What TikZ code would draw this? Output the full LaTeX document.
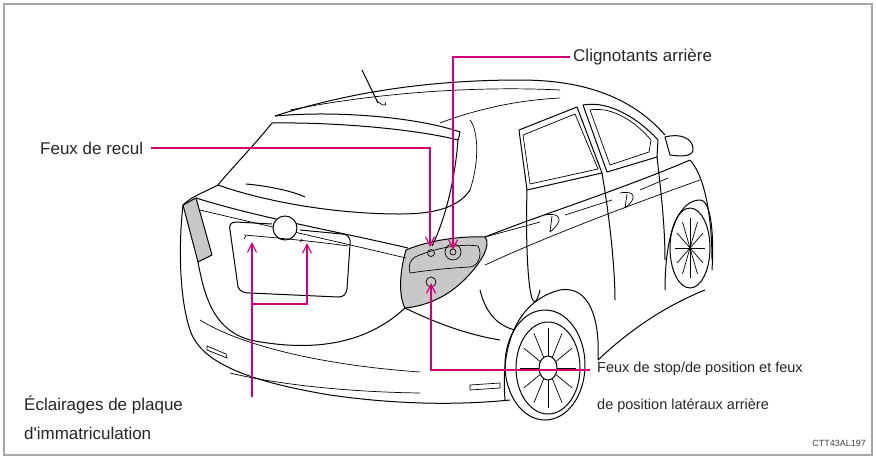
\documentclass[tikz,border=0pt]{standalone}
\usepackage{fontspec}
\setmainfont{Liberation Sans}
\newfontfamily\plainf{Liberation Sans}
\usetikzlibrary{arrows.meta}
\definecolor{mag}{HTML}{D1007A}
\definecolor{lgray}{HTML}{C8C8C8}
\begin{document}
\begin{tikzpicture}[x=1pt,y=-1pt,
  car/.style={line width=1pt,black,line join=round},
  thin/.style={line width=0.7pt,black},
  call/.style={line width=1.4pt,mag},
  tip/.style={call,-{Straight Barb[length=9pt,width=9pt,line width=1.2pt]}},
  lab/.style={font=\fontsize{17}{21}\selectfont,text=black!85,inner sep=0pt}]
\useasboundingbox (0,0) rectangle (876,459);
\draw[line width=2pt,gray!70] (4,4) rectangle (872,455);
% ---------- car ----------
\fill[lgray] (406,250) .. controls (430,240) and (460,236) .. (485,237) .. controls (492,245) and (480,265) .. (462,282) .. controls (445,298) and (425,306) .. (405,308) .. controls (398,295) and (400,270) .. (406,250) -- cycle;
\draw[car] (406,250) .. controls (430,240) and (460,236) .. (485,237) .. controls (492,245) and (480,265) .. (462,282) .. controls (445,298) and (425,306) .. (405,308) .. controls (398,295) and (400,270) .. (406,250) -- cycle;
\draw[thin] (415,257) .. controls (440,246) and (465,244) .. (478,246) .. controls (483,255) and (478,266) .. (470,267) .. controls (450,268) and (430,270) .. (410,273) .. controls (408,266) and (410,260) .. (415,257);
\draw[thin] (431,253) circle (3.5);
\draw[thin] (453,252) circle (8); \draw[thin] (453,252) circle (3);
\draw[thin] (431,282) circle (5);
\fill[lgray] (183,205) -- (196,198) -- (212,255) -- (198,262) -- cycle;
\draw[car] (183,205) -- (196,198) -- (212,255) -- (198,262) -- cycle;
% roof & spoiler
\draw[car] (275,116) .. controls (340,95) and (420,80) .. (520,80) .. controls (580,80) and (630,95) .. (665,135);
\draw[car] (275,116) .. controls (340,110) and (420,118) .. (460,132) .. controls (459,136) and (459,138) .. (458,140);
\draw[car] (272,123) .. controls (340,122) and (420,130) .. (458,140);
\draw[thin] (290,110) .. controls (380,92) and (480,86) .. (560,90);
\draw[thin] (440,123) .. controls (480,108) and (520,100) .. (560,98);
% antenna
\draw[car] (362,70) -- (378,103);
\draw[thin] (376,100) .. controls (382,106) and (388,107) .. (385,102);
% rear window
\draw[car] (272,123) .. controls (250,150) and (230,170) .. (218,185);
\draw[car] (218,185) .. controls (260,200) and (330,214) .. (400,214) .. controls (440,214) and (460,205) .. (470,190);
\draw[car] (458,140) .. controls (455,180) and (445,220) .. (432,246);
\draw[thin] (470,190) .. controls (480,160) and (478,130) .. (470,120);
\draw[car] (246,184) .. controls (270,186) and (295,192) .. (305,197);
% body left and tailgate
\draw[car] (218,185) .. controls (205,192) and (192,196) .. (183,205);
\draw[car] (196,198) .. controls (260,218) and (340,232) .. (408,248);
\draw[thin] (200,210) .. controls (250,222) and (330,240) .. (406,258);
\draw[car] (183,205) .. controls (178,250) and (180,300) .. (190,330);
\draw[car] (198,262) .. controls (205,300) and (215,330) .. (250,340) .. controls (300,350) and (360,350) .. (405,308);
% plate
\draw[car] (236,222) .. controls (230,222) and (229,226) .. (230,230) -- (238,287) .. controls (240,292) and (245,293) .. (250,293) -- (338,297) .. controls (344,297) and (346,294) .. (347,289) -- (350,245) .. controls (351,238) and (348,234) .. (342,234) -- (300,230);
\draw[car] (236,222) -- (272,224);
\draw[car,fill=white] (285,228) circle (12);
\draw[thin] (244,235) .. controls (280,238) and (320,242) .. (348,246);
\draw[thin] (246,236) -- (244,239); \draw[thin] (302,239) -- (300,242);
% bumper
\draw[car] (190,330) .. controls (200,360) and (240,380) .. (330,395) .. controls (400,405) and (460,405) .. (510,400);
\draw[thin] (200,320) .. controls (240,345) and (320,365) .. (420,372);
\draw[thin] (230,373) .. controls (280,385) and (350,392) .. (420,393);
\draw[thin] (207,346) -- (226,354) -- (227,358) -- (207,350) -- cycle;
\draw[thin] (470,385) -- (500,383) -- (500,388) -- (470,390) -- cycle;
\draw[car] (405,308) .. controls (440,325) and (470,335) .. (500,340);
\draw[car] (480,290) .. controls (485,310) and (495,325) .. (515,330);
% rear wheel
\draw[car] (505,400) .. controls (500,340) and (520,300) .. (560,290) .. controls (590,285) and (600,320) .. (598,360);
\draw[car] (545,365) ellipse (40 and 55);
\draw[car] (548,368) ellipse (32 and 46);
\foreach \a in {0,30,...,330} \draw[thin] (548,368) -- ++(\a:28 and 40);
\draw[car,fill=white] (548,368) ellipse (9 and 12);
% side
\draw[car] (485,237) .. controls (540,215) and (620,190) .. (690,160);
\draw[thin] (485,265) .. controls (550,235) and (630,205) .. (700,180);
\draw[car] (598,360) .. controls (640,320) and (680,300) .. (705,290);
\draw[car] (690,160) .. controls (708,180) and (712,230) .. (712,260);
% front wheel
\draw[car] (665,290) .. controls (665,230) and (680,200) .. (700,200) .. controls (712,200) and (714,240) .. (712,270);
\draw[car] (690,248) ellipse (20 and 40);
\foreach \a in {0,30,...,330} \draw[thin] (690,248) -- ++(\a:15 and 30);
% windows
\draw[car] (519,130) -- (577,107) -- (602,173) -- (527,190) -- cycle;
\draw[thin] (523,135) -- (575,114) -- (598,169) -- (530,184) -- cycle;
\draw[car] (583,105) .. controls (610,100) and (640,120) .. (658,140) -- (657,157) -- (607,172) -- cycle;
\draw[thin] (590,110) .. controls (612,106) and (636,122) .. (651,140) -- (649,152) -- (610,165) -- cycle;
\draw[car] (665,137) .. controls (680,133) and (692,138) .. (693,148) .. controls (694,156) and (684,157) .. (670,155) -- cycle;
\draw[car] (527,190) .. controls (525,260) and (530,330) .. (540,290);
\draw[car] (602,173) .. controls (610,220) and (615,270) .. (615,300);
\draw[car] (657,157) .. controls (662,200) and (665,230) .. (665,260);
\draw[thin] (545,215) .. controls (560,212) and (565,220) .. (550,232) (552,216) -- (550,232);
\draw[thin] (620,193) .. controls (635,190) and (638,198) .. (625,208) (627,194) -- (625,208);
\draw[thin] (485,237) -- (540,222) (565,215) -- (612,200) (640,190) -- (668,178);
% ---------- callouts ----------
\node[lab,anchor=west] (cl) at (573,57) {Clignotants arrière};
\node[lab,anchor=west] (fr) at (40,148) {Feux de recul};
\node[lab,anchor=north west,align=left,font=\fontsize{14.5}{37}\selectfont] (fs) at (597,362) {Feux de stop/de position et feux\\de position latéraux arrière};
\node[lab,anchor=north west,align=left,font=\fontsize{17}{29}\selectfont] (ec) at (24,396) {Éclairages de plaque\\d{\plainf'}immatriculation};
\node[anchor=east,inner sep=0pt,font=\fontsize{9}{11}\selectfont,text=black!75] (code) at (866,443) {CTT43AL197};
\coordinate (tcl) at (453,250);
\coordinate (tfr) at (430,247);
\coordinate (tfs) at (431,283);
\coordinate (tp1) at (252,242);
\coordinate (tp2) at (307,243);
\coordinate (fsl) at (590,370);
\draw[tip] (cl.west) ++(-3,0) -| (tcl);
\draw[tip] (fr.east) ++(8,0) -| (tfr);
\draw[tip] (fsl) -| (tfs);
\draw[tip] (252,397) -- (tp1);
\draw[tip] (252,304) -| (tp2);
\end{tikzpicture}
\end{document}
